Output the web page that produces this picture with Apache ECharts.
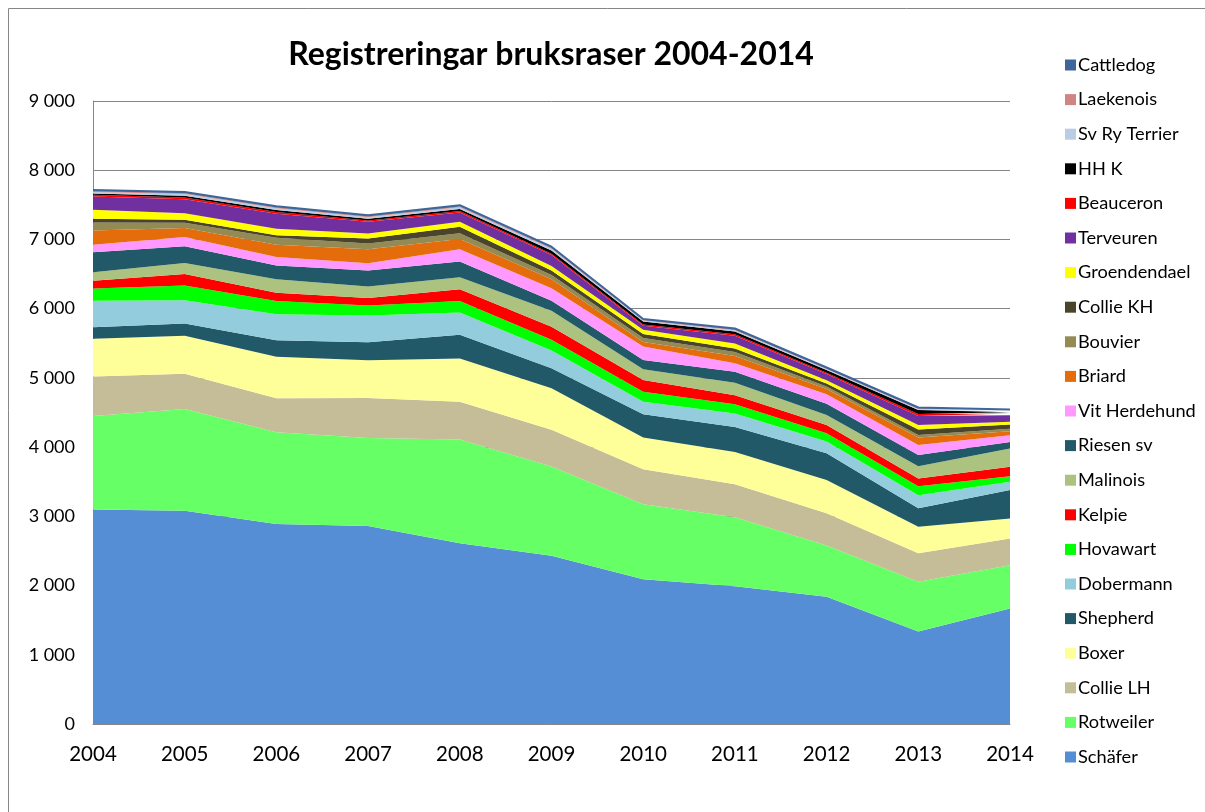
<!DOCTYPE html>
<html>
<head>
<meta charset="utf-8">
<script src="https://cdn.jsdelivr.net/npm/echarts@6/dist/echarts.min.js"></script>
<style>
  html, body { margin: 0; padding: 0; background: #fff; }
  #myChart { width: 1205px; height: 812px; }
</style>
</head>
<body>
<div id="myChart"></div>
<script>
// år (x-axel)
var years = ['2004', '2005', '2006', '2007', '2008', '2009', '2010', '2011', '2012', '2013', '2014'];
var yTicks = [0, 1000, 2000, 3000, 4000, 5000, 6000, 7000, 8000, 9000];

// registreringar per ras, nerifrån och upp i stapeln
var schafer      = [3100, 3080, 2890, 2860, 2610, 2430, 2090, 1990, 1840, 1335, 1670];
var rotweiler    = [1350, 1470, 1325, 1270, 1500, 1290, 1085,  995,  740,  720,  625];
var collieLH     = [ 570,  510,  490,  580,  545,  530,  505,  480,  465,  410,  385];
var boxer        = [ 545,  550,  600,  545,  625,  600,  460,  465,  480,  385,  290];
var shepherd     = [ 165,  175,  240,  260,  345,  290,  335,  360,  385,  265,  410];
var dobermann    = [ 385,  335,  375,  385,  320,  255,  180,  195,  170,  190,  120];
var hovawart     = [ 175,  215,  190,  145,  165,  155,  145,  135,  120,  130,   80];
var kelpie       = [ 115,  165,  120,  110,  170,  190,  170,  130,  120,  110,  135];
var malinois     = [ 120,  160,  195,  165,  175,  230,  155,  180,  145,  180,  265];
var riesenSv     = [ 290,  240,  200,  230,  225,  145,  135,  160,  160,  160,   95];
var vitHerdehund = [ 110,  135,  120,  105,  180,  180,  195,  120,  140,  145,   95];
var briard       = [ 205,  130,  180,  205,  145,  130,   65,  105,   75,  110,   60];
var bouvier      = [ 115,   75,  100,   80,   85,   60,   55,   60,   35,   35,   35];
var collieKH     = [  55,   45,   35,   75,   95,   65,   60,   50,   45,   80,   60];
var groendendael = [ 130,   95,   95,   70,   70,   65,   60,   70,   45,   65,   40];
var terveuren    = [ 190,  200,  215,  170,  135,  160,   60,  115,   90,  130,   95];
var beauceron    = [  25,   25,   25,   20,   20,   20,   15,   20,   20,   30,   25];
var hhk          = [  20,   25,   30,   25,   30,   45,   45,   40,   40,   55,   20];
var svRyTerrier  = [  20,   25,   25,   20,   25,   25,   15,   20,   15,   15,   15];
var laekenois    = [  15,   15,   15,   15,   15,   15,   10,   12,   10,   12,   12];
var cattledog    = [  15,   15,   15,   15,   15,   15,   12,   12,   10,   10,   10];

var raser = [
  { name: 'Schäfer',       data: schafer,      color: '#558ed5' },
  { name: 'Rotweiler',     data: rotweiler,    color: '#66ff66' },
  { name: 'Collie LH',     data: collieLH,     color: '#c4bd97' },
  { name: 'Boxer',         data: boxer,        color: '#ffff99' },
  { name: 'Shepherd',      data: shepherd,     color: '#215968' },
  { name: 'Dobermann',     data: dobermann,    color: '#93cddd' },
  { name: 'Hovawart',      data: hovawart,     color: '#00ff00' },
  { name: 'Kelpie',        data: kelpie,       color: '#ff0000' },
  { name: 'Malinois',      data: malinois,     color: '#abc37f' },
  { name: 'Riesen sv',     data: riesenSv,     color: '#215968' },
  { name: 'Vit Herdehund', data: vitHerdehund, color: '#ff99ff' },
  { name: 'Briard',        data: briard,       color: '#e46c0a' },
  { name: 'Bouvier',       data: bouvier,      color: '#948a54' },
  { name: 'Collie KH',     data: collieKH,     color: '#4a452a' },
  { name: 'Groendendael',  data: groendendael, color: '#ffff00' },
  { name: 'Terveuren',     data: terveuren,    color: '#7030a0' },
  { name: 'Beauceron',     data: beauceron,    color: '#ff0000' },
  { name: 'HH K',          data: hhk,          color: '#000000' },
  { name: 'Sv Ry Terrier', data: svRyTerrier,  color: '#b9cde5' },
  { name: 'Laekenois',     data: laekenois,    color: '#d08584' },
  { name: 'Cattledog',     data: cattledog,    color: '#3f669a' }
];

var font = 'Lato, "Liberation Sans", sans-serif';

let Chart = echarts.init(document.getElementById('myChart'));
Chart.setOption({
  animation: false,
  title: {
    text: 'Registreringar bruksraser 2004-2014',
    left: 546,
    textAlign: 'center',
    top: 34,
    textStyle: { fontFamily: font, fontSize: 32, fontWeight: 'bold', color: '#000' }
  },
  graphic: [{
    type: 'rect',
    shape: { x: 8.5, y: 8.5, width: 1210, height: 820 },
    style: { fill: 'none', stroke: '#868686', lineWidth: 1 },
    silent: true
  }],
  grid: { left: 93, right: 195, top: 101, bottom: 88 },
  legend: {
    orient: 'vertical',
    left: 1060,
    top: 50,
    itemWidth: 11,
    itemHeight: 11,
    itemGap: 14.6,
    icon: 'rect',
    data: raser.map(function (r) { return r.name; }).reverse(),
    textStyle: { fontFamily: font, fontSize: 18.2, color: '#000', lineHeight: 20, padding: [0, 0, 0, -3] }
  },
  xAxis: {
    type: 'category',
    boundaryGap: false,
    data: years,
    axisLine: { lineStyle: { color: '#868686' } },
    axisTick: { show: false },
    axisLabel: { fontFamily: font, fontSize: 20.5, color: '#000', margin: 20 }
  },
  yAxis: {
    type: 'value',
    min: yTicks[0],
    max: yTicks[yTicks.length - 1],
    interval: 1000,
    axisLine: { show: true, lineStyle: { color: '#868686' } },
    axisTick: { show: false },
    splitLine: { lineStyle: { color: '#868686' } },
    axisLabel: {
      fontFamily: font, fontSize: 18, color: '#000', margin: 18,
      formatter: function (v) { return v >= 1000 ? Math.floor(v / 1000) + ' ' + String(v % 1000).padStart(3, '0') : String(v); }
    }
  },
  series: raser.map(function (r) {
    return {
      name: r.name,
      type: 'line',
      stack: 'total',
      data: r.data,
      symbol: 'none',
      color: r.color,
      lineStyle: { width: r.name === 'Cattledog' ? 2 : 0, color: r.color },
      areaStyle: { color: r.color, opacity: 1 }
    };
  })
});
</script>
</body>
</html>
